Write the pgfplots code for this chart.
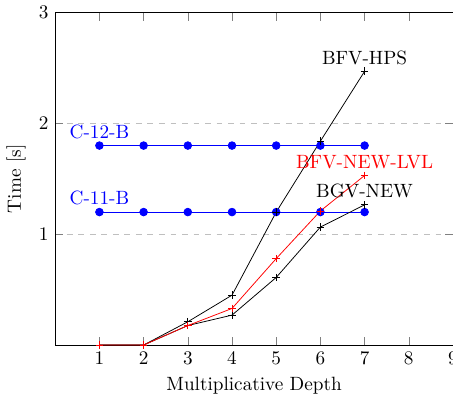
\documentclass[border=0pt]{standalone}
\usepackage{pgfplots}
\pgfplotsset{compat=1.18}
\begin{document}
\begin{tikzpicture}
\begin{axis}[name=ax, scale only axis, width=207pt, height=173pt,
  xmin=0, xmax=9, ymin=0, ymax=3,
  xtick={1,...,9}, ytick={1,2,3},
  ymajorgrids, grid style={dashed, gray!50},
  xlabel={Multiplicative Depth}, ylabel={Time [s]},
  clip=false]
\addplot[blue, mark=*] coordinates {(1,1.8)(2,1.8)(3,1.8)(4,1.8)(5,1.8)(6,1.8)(7,1.8)};
\addplot[blue, mark=*] coordinates {(1,1.2)(2,1.2)(3,1.2)(4,1.2)(5,1.2)(6,1.2)(7,1.2)};
\addplot[black, mark=+] coordinates {(1,0)(2,0)(3,0.21)(4,0.45)(5,1.2)(6,1.84)(7,2.47)};
\addplot[black, mark=+] coordinates {(1,0)(2,0)(3,0.176)(4,0.27)(5,0.61)(6,1.065)(7,1.265)};
\addplot[red, mark=+] coordinates {(1,0)(2,0)(3,0.176)(4,0.33)(5,0.78)(6,1.21)(7,1.53)};
\node[above, blue] at (axis cs:1,1.8) {C-12-B};
\node[above, blue] at (axis cs:1,1.2) {C-11-B};
\node[above] at (axis cs:7,2.47) {BFV-HPS};
\node[above, red] at (axis cs:7,1.53) {BFV-NEW-LVL};
\node[above] at (axis cs:7,1.265) {BGV-NEW};
\end{axis}
\pgfresetboundingbox
\useasboundingbox (ax.outer south west) rectangle (ax.east |- ax.outer north east);
\end{tikzpicture}
\end{document}
